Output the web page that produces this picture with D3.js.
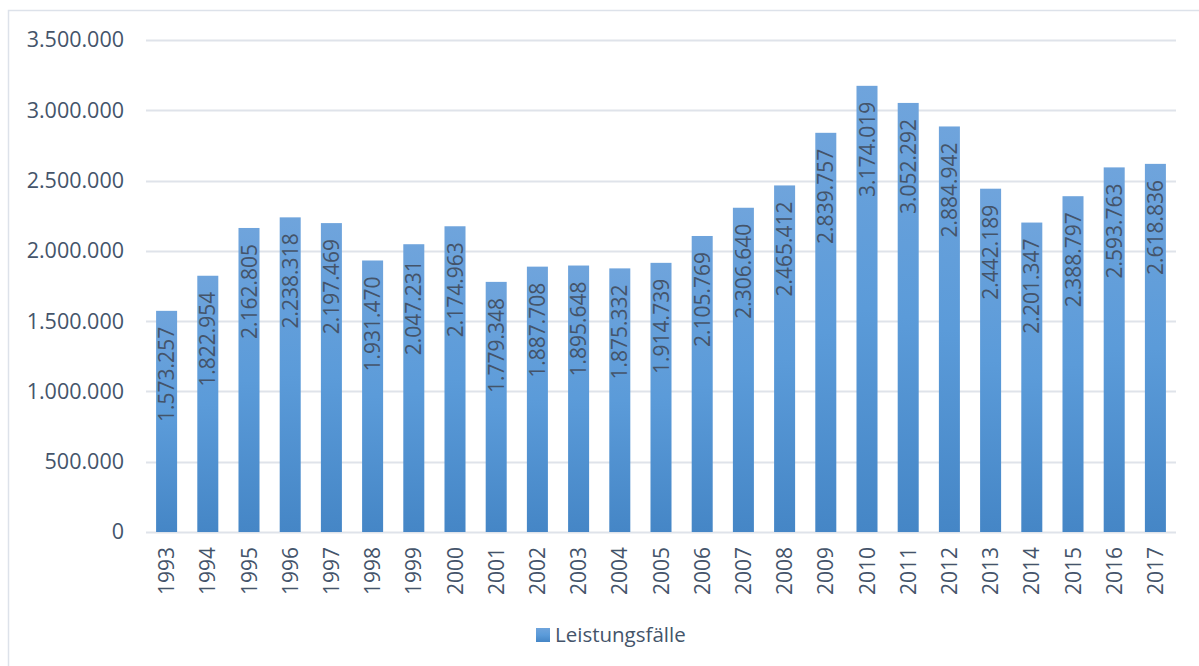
<!DOCTYPE html>
<html>
<head>
<meta charset="utf-8">
<script src="https://cdn.jsdelivr.net/npm/d3@7"></script>
<style>
  body { margin: 0; background: #fff; }
  svg text { font-family: "Open Sans", "Liberation Sans", sans-serif; fill: #44546a; }
</style>
</head>
<body>
<svg id="chart" width="1199" height="666"></svg>
<script>
// data
const years = ["1993","1994","1995","1996","1997","1998","1999","2000","2001","2002","2003","2004","2005",
               "2006","2007","2008","2009","2010","2011","2012","2013","2014","2015","2016","2017"];
const faelle = [1573257,1822954,2162805,2238318,2197469,1931470,2047231,2174963,1779348,1887708,1895648,1875332,1914739,
                2105769,2306640,2465412,2839757,3174019,3052292,2884942,2442189,2201347,2388797,2593763,2618836];
const yTicks = [0,500000,1000000,1500000,2000000,2500000,3000000,3500000];
const seriesName = "Leistungsfälle";

const margin = {top: 40, right: 23, bottom: 134, left: 146},
    width = 1199,
    height = 666;

const svg = d3.select("#chart");

// gradient for bars (lighter at top)
const defs = svg.append("defs");
const grad = defs.append("linearGradient")
    .attr("id", "barGrad")
    .attr("x1", 0).attr("y1", 0).attr("x2", 0).attr("y2", 1);
grad.append("stop").attr("offset", "0%").attr("stop-color", "#6fa4dc");
grad.append("stop").attr("offset", "50%").attr("stop-color", "#5b9bd9");
grad.append("stop").attr("offset", "100%").attr("stop-color", "#4586c6");

// outer frame
svg.append("rect")
    .attr("x", 8.5).attr("y", 10.5)
    .attr("width", 1200).attr("height", 700)
    .attr("fill", "none")
    .attr("stroke", "#dde2ea")
    .attr("stroke-width", 1.5);

const x = d3.scaleBand()
    .domain(years)
    .range([margin.left, width - margin.right])
    .paddingInner(0.49)
    .paddingOuter(0.245);

const y = d3.scaleLinear()
    .domain([0, 3500000])
    .range([height - margin.bottom, margin.top]);

const fmt = d3.formatLocale({decimal: ",", thousands: ".", grouping: [3], currency: ["", "€"]}).format(",d");

// grid lines
svg.append("g")
    .selectAll("line")
    .data(yTicks)
    .join("line")
    .attr("x1", margin.left)
    .attr("x2", width - margin.right)
    .attr("y1", d => Math.round(y(d)) + 0.5)
    .attr("y2", d => Math.round(y(d)) + 0.5)
    .attr("stroke", "#dfe3ea")
    .attr("stroke-width", 2);

// y axis labels
const yAxis = svg.append("g")
    .attr("transform", `translate(${margin.left - 22},0)`)
    .call(d3.axisLeft(y).tickValues(yTicks).tickFormat(fmt).tickSize(0).tickPadding(0));
yAxis.select(".domain").remove();
yAxis.selectAll("text")
    .attr("font-size", 21.5)
    .attr("font-family", null);

// bars
svg.append("g")
    .selectAll("rect")
    .data(faelle)
    .join("rect")
    .attr("x", (d, i) => x(years[i]))
    .attr("y", d => y(d))
    .attr("width", x.bandwidth())
    .attr("height", d => y(0) - y(d))
    .attr("fill", "url(#barGrad)");

// value labels inside bars
svg.append("g")
    .selectAll("text")
    .data(faelle)
    .join("text")
    .attr("transform", (d, i) => `translate(${x(years[i]) + x.bandwidth() / 2 + 7.5},${y(d) + 16}) rotate(-90)`)
    .attr("text-anchor", "end")
    .attr("font-size", 21)
    .text(d => fmt(d));

// x axis labels
const xAxis = svg.append("g")
    .attr("transform", `translate(0,${height - margin.bottom})`)
    .call(d3.axisBottom(x).tickSize(0).tickPadding(0));
xAxis.select(".domain").remove();
xAxis.selectAll("text")
    .attr("font-size", 21)
    .attr("font-family", null)
    .attr("text-anchor", "end")
    .attr("dy", null)
    .attr("y", 0)
    .attr("transform", "translate(7.5,15) rotate(-90)");

// legend
const legend = svg.append("g").attr("transform", "translate(536,628)");
legend.append("rect")
    .attr("width", 14).attr("height", 14)
    .attr("fill", "url(#barGrad)");
legend.append("text")
    .attr("x", 19).attr("y", 14)
    .attr("font-size", 20.5)
    .text(seriesName);
</script>
</body>
</html>
